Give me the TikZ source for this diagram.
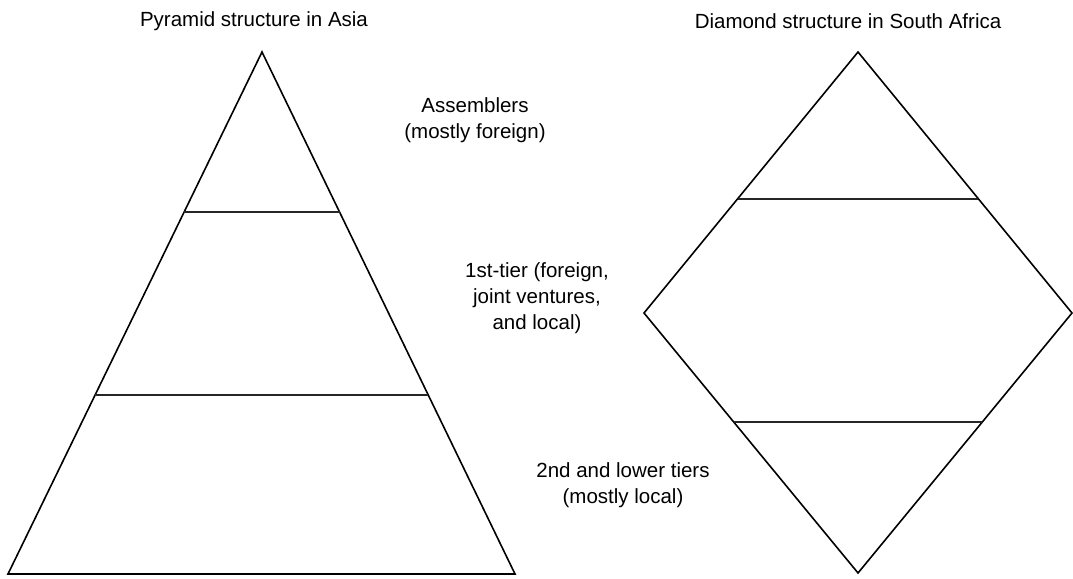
\documentclass[tikz,border=0pt]{standalone}
\usepackage{fontspec}
\setmainfont{Liberation Sans}
\usetikzlibrary{calc}

\begin{document}
\begin{tikzpicture}[x=1pt,y=-1pt,line join=miter]
  \tikzstyle{outline}=[draw=black,line width=1.6pt]
  \tikzstyle{tierline}=[draw=black!85,line width=1.6pt]
  \tikzstyle{caption}=[align=center,inner sep=0pt,font=\fontsize{20.5}{26}\selectfont]

  \useasboundingbox (0,0) rectangle (1073,578);

  % pyramid
  \coordinate (p_top) at (262,52);
  \coordinate (p_bl)  at (8,574);
  \coordinate (p_br)  at (515,574);
  \draw[outline] (p_top) -- (p_br) -- (p_bl) -- cycle;
  \draw[tierline] ($(p_top)!0.3065!(p_bl)$) -- ($(p_top)!0.3065!(p_br)$);
  \draw[tierline] ($(p_top)!0.657!(p_bl)$) -- ($(p_top)!0.657!(p_br)$);

  % diamond
  \coordinate (d_top)    at (858,52);
  \coordinate (d_left)   at (644,313);
  \coordinate (d_right)  at (1072,313);
  \coordinate (d_bottom) at (858,573);
  \draw[outline] (d_top) -- (d_right) -- (d_bottom) -- (d_left) -- cycle;
  \draw[tierline] ($(d_top)!0.563!(d_left)$) -- ($(d_top)!0.563!(d_right)$);
  \draw[tierline] ($(d_bottom)!0.581!(d_left)$) -- ($(d_bottom)!0.581!(d_right)$);

  % titles and tier labels
  \node[caption] (t_asia)   at (254,21)  {Pyramid structure in Asia};
  \node[caption] (t_africa) at (848,21)  {Diamond structure in South Africa};
  \node[caption] (l_assem)  at (475,120) {Assemblers\\(mostly foreign)};
  \node[caption] (l_first)  at (537,298) {1st-tier (foreign,\\joint ventures,\\and local)};
  \node[caption] (l_second) at (623,485) {2nd and lower tiers\\(mostly local)};
\end{tikzpicture}
\end{document}
